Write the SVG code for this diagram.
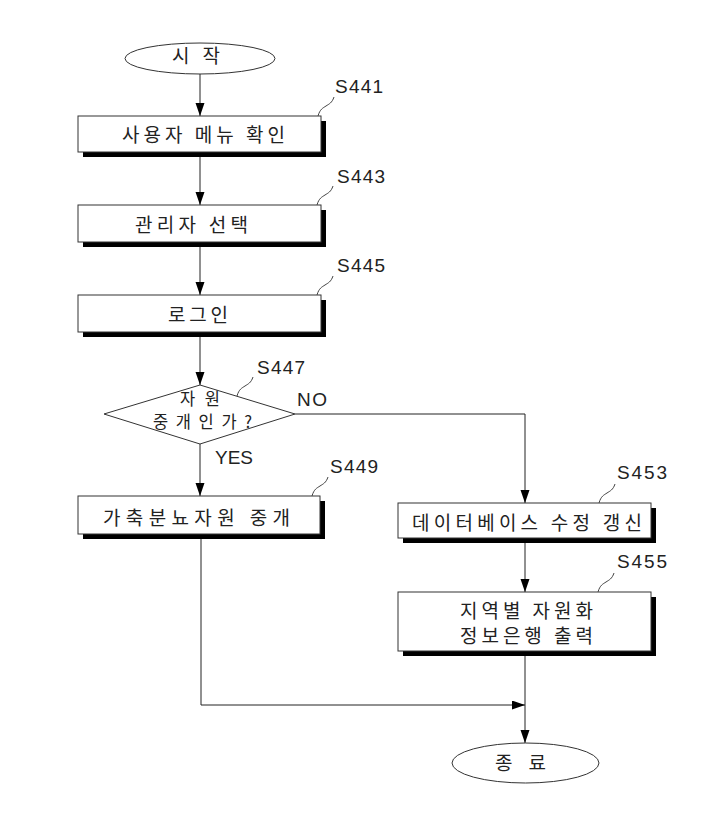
<svg xmlns="http://www.w3.org/2000/svg" width="711" height="816" viewBox="0 0 711 816">
<style>
.bg{fill:#fff}
.box{fill:#fff;stroke:#333;stroke-width:1}
.shadow{fill:#000}
.term{fill:#fff;stroke:#333;stroke-width:1}
.kr{font-family:"Noto Sans CJK KR","Noto Sans",sans-serif;font-size:19px;fill:#222}
.krs{font-family:"Noto Sans CJK KR","Noto Sans",sans-serif;font-size:16.5px;fill:#222}
.lb{font-family:"Liberation Sans",Arial,sans-serif;font-size:19px;fill:#222}
.conn{fill:none;stroke:#222;stroke-width:1}
.lead{fill:none;stroke:#444;stroke-width:1}
</style>
<defs>
<marker id="arr" markerUnits="userSpaceOnUse" markerWidth="14" markerHeight="10" refX="13" refY="4.5" orient="auto">
<path d="M0,0 L13,4.5 L0,9 z" fill="#000"/>
</marker>
</defs>
<rect class="bg" x="0" y="0" width="711" height="816"/>

<g id="connectors">
<path class="conn" d="M200,74 V116" marker-end="url(#arr)"/>
<path class="conn" d="M200,152 V205" marker-end="url(#arr)"/>
<path class="conn" d="M200,242 V295" marker-end="url(#arr)"/>
<path class="conn" d="M200,332 V385" marker-end="url(#arr)"/>
<path class="conn" d="M200,444 V496" marker-end="url(#arr)"/>
<path class="conn" d="M295,414 H525 V503" marker-end="url(#arr)"/>
<path class="conn" d="M525,538 V592" marker-end="url(#arr)"/>
<path class="conn" d="M201,534 V705 H525" marker-end="url(#arr)"/>
<path class="conn" d="M525,651 V743" marker-end="url(#arr)"/>
<text class="lb" x="297" y="406" textLength="30">NO</text>
<text class="lb" x="215" y="464" textLength="38">YES</text>
</g>

<g id="start">
<ellipse class="term" cx="200" cy="58.5" rx="75" ry="15.5"/>
<text class="kr" x="172" y="63" textLength="48">시 작</text>
</g>

<g id="S441">
<rect class="shadow" x="83" y="121" width="243" height="36"/>
<rect class="box" x="78" y="116" width="243" height="36"/>
<text class="kr" x="122" y="142" textLength="163">사용자 메뉴 확인</text>
<path class="lead" d="M318,116 c2,-7 5,-8 8,-10 s6,-3 8,-9"/>
<text class="lb" x="335" y="93" textLength="48">S441</text>
</g>

<g id="S443">
<rect class="shadow" x="83" y="210" width="243" height="37"/>
<rect class="box" x="78" y="205" width="243" height="37"/>
<text class="kr" x="135" y="231.5" textLength="113">관리자 선택</text>
<path class="lead" d="M317,205 c2,-7 5,-8 8,-10 s6,-3 8,-9"/>
<text class="lb" x="337" y="183" textLength="48">S443</text>
</g>

<g id="S445">
<rect class="shadow" x="83" y="300" width="243" height="37"/>
<rect class="box" x="78" y="295" width="243" height="37"/>
<text class="kr" x="168" y="321.5" textLength="60">로그인</text>
<path class="lead" d="M317,295 c2,-7 5,-8 8,-10 s6,-3 8,-9"/>
<text class="lb" x="337" y="272" textLength="48">S445</text>
</g>

<g id="S447">
<polygon class="box" points="200,385 295,414 200,444 104,414"/>
<text class="krs" x="180" y="405" textLength="40">자원</text>
<text class="krs" x="153" y="428" textLength="99">중개인가?</text>
<path class="lead" d="M237,396 c2,-7 5,-8 8,-10 s6,-3 8,-9"/>
<text class="lb" x="257" y="374" textLength="48">S447</text>
</g>

<g id="S449">
<rect class="shadow" x="83" y="501" width="242" height="38"/>
<rect class="box" x="78" y="496" width="242" height="38"/>
<text class="kr" x="103" y="525" textLength="187">가축분뇨자원 중개</text>
<path class="lead" d="M312,496 c2,-7 5,-8 8,-10 s6,-3 8,-9"/>
<text class="lb" x="330" y="473" textLength="48">S449</text>
</g>

<g id="S453">
<rect class="shadow" x="403" y="508" width="253" height="35"/>
<rect class="box" x="398" y="503" width="253" height="35"/>
<text class="kr" x="412" y="529.5" textLength="230">데이터베이스 수정 갱신</text>
<path class="lead" d="M599,503 c2,-7 5,-8 8,-10 s6,-3 8,-9"/>
<text class="lb" x="617" y="479" textLength="50">S453</text>
</g>

<g id="S455">
<rect class="shadow" x="403" y="597" width="253" height="59"/>
<rect class="box" x="398" y="592" width="253" height="59"/>
<text class="kr" x="460" y="617.5" textLength="133">지역별 자원화</text>
<text class="kr" x="460" y="643" textLength="133">정보은행 출력</text>
<path class="lead" d="M598,592 c2,-7 5,-8 8,-10 s6,-3 8,-9"/>
<text class="lb" x="617" y="568" textLength="50">S455</text>
</g>

<g id="end">
<ellipse class="term" cx="525.5" cy="763" rx="73.5" ry="20"/>
<text class="kr" x="495" y="769.5" textLength="51">종 료</text>
</g>
</svg>
